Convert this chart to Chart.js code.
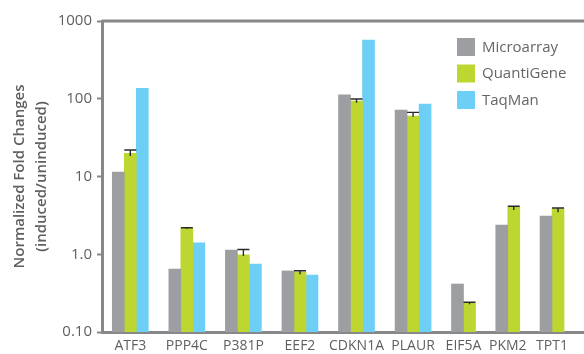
<!DOCTYPE html>
<html>
<head>
<meta charset="utf-8">
<script src="https://cdn.jsdelivr.net/npm/chart.js@4"></script>
<style>
  html, body { margin: 0; padding: 0; background: #fff; }
  #wrap { width: 584px; height: 354px; position: relative; }
</style>
</head>
<body>
<div id="wrap"><canvas id="foldChart"></canvas></div>
<script>
// data
const categories = ["ATF3", "PPP4C", "P381P", "EEF2", "CDKN1A", "PLAUR", "EIF5A", "PKM2", "TPT1"];

const microarray = [11.4, 0.645, 1.13, 0.61, 112, 71.7, 0.414, 2.38, 3.10];
const quantiGene = [19.9, 2.16, 0.98, 0.59, 93.5, 60.0, 0.234, 4.02, 3.85];
const taqMan = [136, 1.40, 0.75, 0.54, 570, 85.5, null, null, null];

// QuantiGene error bars (upper / lower)
const quantiGeneHigh = [21.9, 2.19, 1.15, 0.614, 99.3, 66.8, 0.241, 4.14, 3.93];
const quantiGeneLow = [18.4, 2.12, 0.95, 0.552, 89.0, 58.8, 0.228, 3.71, 3.46];

const yTicks = [0.1, 1, 10, 100, 1000];
const yTickLabels = ["0.10", "1.0", "10", "100", "1000"];

const seriesNames = ["Microarray", "QuantiGene", "TaqMan"];
const seriesColors = ["#9d9ea2", "#bed630", "#6dcff6"];

const axisGray = "#87888a";
const textGray = "#5e5f61";

Chart.defaults.font.family = "'Open Sans', sans-serif";

// groups with fewer bars take less room, like in the original
const GAP = 1.6;
const seriesList = [microarray, quantiGene, taqMan];
const barCounts = categories.map((c, i) =>
    seriesList.filter(s => s[i] !== null && s[i] !== undefined).length);
let acc = 0;
const centers = barCounts.map(n => {
    const w = n + GAP;
    const c = acc + w / 2;
    acc += w;
    return c;
});
const xMax = acc + 0.8;

function toPoints(values){
    return values.map((v, i) => ({ x: centers[i], y: v }));
}

const frameTop = {
    id: "frameTop",
    beforeDatasetsDraw(chart){
        const { ctx, chartArea } = chart;
        ctx.save();
        ctx.strokeStyle = axisGray;
        ctx.lineWidth = 3;
        ctx.beginPath();
        ctx.moveTo(chartArea.left, chartArea.top);
        ctx.lineTo(chartArea.right, chartArea.top);
        ctx.stroke();
        ctx.restore();
    }
};

const errorBars = {
    id: "errorBars",
    afterDatasetsDraw(chart){
        const { ctx } = chart;
        const meta = chart.getDatasetMeta(1);
        const yScale = chart.scales.y;
        ctx.save();
        ctx.strokeStyle = "#2b2b2b";
        ctx.lineWidth = 1.4;
        meta.data.forEach((bar, i) => {
            if (quantiGeneHigh[i] == null) return;
            const yHi = yScale.getPixelForValue(quantiGeneHigh[i]);
            const yLo = yScale.getPixelForValue(quantiGeneLow[i]);
            const half = bar.width / 2;
            ctx.beginPath();
            ctx.moveTo(bar.x, yLo);
            ctx.lineTo(bar.x, yHi);
            ctx.moveTo(bar.x - half, yHi);
            ctx.lineTo(bar.x + half, yHi);
            ctx.stroke();
        });
        ctx.restore();
    }
};

const boxLegend = {
    id: "boxLegend",
    afterDraw(chart){
        const { ctx, chartArea } = chart;
        const x = chartArea.right - 127;
        const y = chartArea.top + 17;
        ctx.save();
        ctx.font = "15px 'Open Sans', sans-serif";
        ctx.textBaseline = "middle";
        ctx.textAlign = "left";
        chart.data.datasets.forEach((ds, i) => {
            const rowY = y + i * 26.5;
            ctx.fillStyle = ds.backgroundColor;
            ctx.fillRect(x, rowY, 18, 18);
            ctx.fillStyle = "#646567";
            ctx.fillText(ds.label, x + 25, rowY + 9.5);
        });
        ctx.restore();
    }
};

new Chart(

    document.getElementById("foldChart"),

    {
        type: "bar",

        data: {
            datasets: [
                { label: seriesNames[0], data: toPoints(microarray), backgroundColor: seriesColors[0] },
                { label: seriesNames[1], data: toPoints(quantiGene), backgroundColor: seriesColors[1] },
                { label: seriesNames[2], data: toPoints(taqMan), backgroundColor: seriesColors[2] }
            ]
        },

        options: {
            responsive: true,
            maintainAspectRatio: false,
            animation: false,
            skipNull: true,
            barThickness: 12,
            layout: { padding: { top: 21, right: 0, left: 0, bottom: 0 } },
            plugins: {
                legend: { display: false },
                tooltip: { enabled: false }
            },
            scales: {
                x: {
                    type: "linear",
                    offset: false,
                    min: 0,
                    max: xMax,
                    afterBuildTicks: (scale) => {
                        scale.ticks = centers.map(v => ({ value: v }));
                    },
                    afterFit: (scale) => { scale.height = 22; },
                    grid: { display: true, drawOnChartArea: false, drawTicks: false },
                    border: { display: true, color: axisGray, width: 3 },
                    ticks: {
                        autoSkip: false,
                        maxRotation: 0,
                        padding: 6,
                        color: textGray,
                        font: { size: 14 },
                        callback: (v) => categories[centers.indexOf(v)]
                    }
                },
                y: {
                    type: "logarithmic",
                    min: 0.1,
                    max: 1000,
                    afterBuildTicks: (scale) => {
                        scale.ticks = yTicks.map(v => ({ value: v }));
                    },
                    afterFit: (scale) => { scale.width = 102; },
                    grid: {
                        display: true,
                        drawOnChartArea: false,
                        drawTicks: true,
                        tickLength: 5,
                        tickWidth: 2,
                        tickColor: axisGray
                    },
                    border: { display: true, color: axisGray, width: 3 },
                    ticks: {
                        padding: 5,
                        color: textGray,
                        font: { size: 15 },
                        callback: (v) => yTickLabels[yTicks.indexOf(v)]
                    },
                    title: {
                        display: true,
                        text: ["Normalized Fold Changes", "(induced/uninduced)"],
                        color: textGray,
                        font: { size: 15, weight: "600", lineHeight: 1.47 },
                        padding: { top: 9, bottom: 0 }
                    }
                }
            }
        },

        plugins: [frameTop, errorBars, boxLegend]
    }
);
</script>
</body>
</html>
